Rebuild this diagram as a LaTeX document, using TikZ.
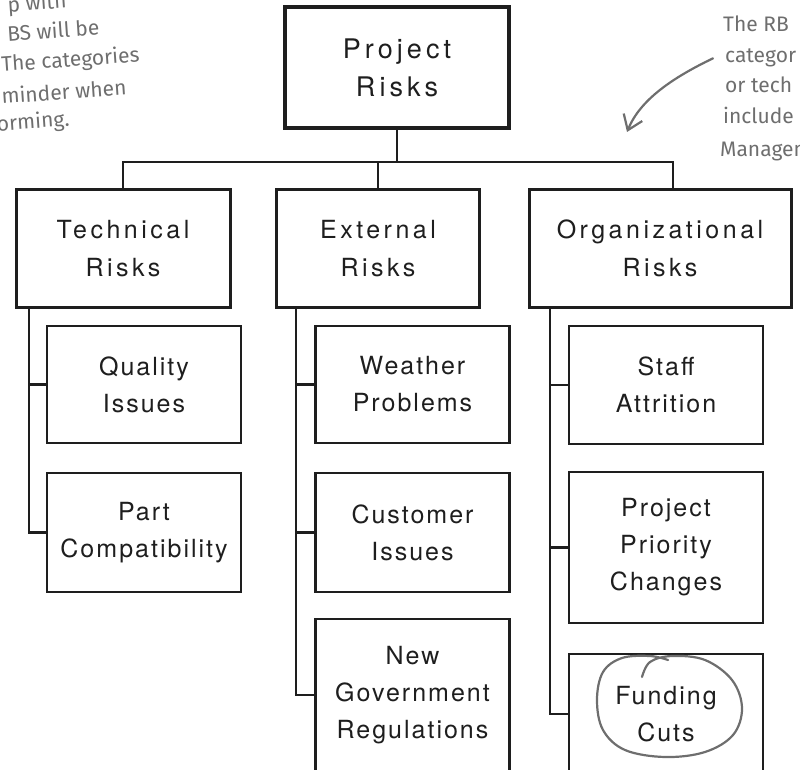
\documentclass[tikz,border=0pt]{standalone}
\usepackage{fontspec}
\setmainfont{TeX Gyre Heros}
\newfontfamily\toplabel[LetterSpace=15]{TeX Gyre Heros}
\newfontfamily\catlabel[LetterSpace=14]{TeX Gyre Heros}
\newfontfamily\risklabel[LetterSpace=8]{TeX Gyre Heros}
\newfontfamily\handfont{Fira Sans}
\usepackage{xcolor}
\usepackage{tikz}
\usetikzlibrary{arrows.meta, positioning, calc}

\definecolor{ink}{HTML}{1E1E1E}
\definecolor{pencil}{HTML}{6E6E6E}

\tikzset{
  topbox/.style={draw=ink, line width=4pt, minimum width=224pt, minimum height=121pt, align=center, text=ink, font=\toplabel\fontsize{27}{38}\selectfont},
  catbox/.style={draw=ink, line width=3pt, minimum height=117pt, align=center, text=ink, font=\catlabel\fontsize{25}{38}\selectfont},
  riskbox/.style={draw=ink, line width=2.3pt, minimum width=194pt, align=center, text=ink, font=\risklabel\fontsize{25}{37}\selectfont},
  link/.style={draw=ink, line width=2.5pt},
  note/.style={text=pencil, inner sep=0pt, font=\handfont\fontsize{21}{22}\selectfont},
  scribble/.style={draw=pencil, line width=2.2pt, line cap=round, line join=round},
}

\begin{document}
\begin{tikzpicture}[x=1pt, y=-1pt]
        \useasboundingbox (0,0) rectangle (800,770);
        \clip (0,0) rectangle (800,770);

        % root
        \node[topbox] (proj) at (397,67.5) {Project\\Risks};

        % categories
        \node[catbox, minimum width=214pt] (tech) at (123,248.5) {Technical\\Risks};
        \node[catbox, minimum width=203pt] (ext) at (378,248.5) {External\\Risks};
        \node[catbox, minimum width=262pt] (org) at (660,248.5) {Organizational\\Risks};

        % risks
        \node[riskbox, minimum height=117pt] (quality) at (144,384.5) {Quality\\Issues};
        \node[riskbox, minimum height=119pt] (part) at (144,532.5) {Part\\Compatibility};
        \node[riskbox, minimum height=117pt] (weather) at (412.5,384.5) {Weather\\Problems};
        \node[riskbox, minimum height=119pt] (customer) at (412.5,532.5) {Customer\\Issues};
        \node[riskbox, minimum height=152pt] (govt) at (412.5,695) {New\\Government\\Regulations};
        \node[riskbox, minimum height=118pt] (staff) at (666,385) {Staff\\Attrition};
        \node[riskbox, minimum height=151pt] (priority) at (666,547.5) {Project\\Priority\\Changes};
        \node[riskbox, minimum height=120pt] (funding) at (666,714) {Funding\\Cuts};

        % tree lines
        \coordinate (bus) at (397,162);
        \draw[link] (proj.south) -- (bus);
        \draw[link] (tech.north) |- (bus) -| ([xshift=13pt]org.north);
        \draw[link] (ext.north) -- (ext.north |- bus);

        \coordinate (techspine) at (29,0);
        \coordinate (extspine) at (296,0);
        \coordinate (orgspine) at (550,0);
        \draw[link] (tech.south -| techspine) |- (part.west);
        \draw[link] (quality.west) -- (quality.west -| techspine);
        \draw[link] (ext.south -| extspine) |- (govt.west);
        \draw[link] (weather.west) -- (weather.west -| extspine);
        \draw[link] (customer.west) -- (customer.west -| extspine);
        \draw[link] (org.south -| orgspine) |- (funding.west);
        \draw[link] (staff.west) -- (staff.west -| orgspine);
        \draw[link] (priority.west) -- (priority.west -| orgspine);

        % handwritten notes
        \node[note, anchor=base east, rotate=4] (noteA1) at (67,8) {p with};
        \node[note, anchor=base east, rotate=4] (noteA2) at (100,35) {BS will be};
        \node[note, anchor=base east, rotate=4] (noteA3) at (140,62) {The categories};
        \node[note, anchor=base east, rotate=4] (noteA4) at (127,95) {minder when};
        \node[note, anchor=base east, rotate=4] (noteA5) at (70,126) {orming.};

        \node[note, anchor=base west] (noteB1) at (723,32) {The RB};
        \node[note, anchor=base west] (noteB2) at (725,63) {categor};
        \node[note, anchor=base west] (noteB3) at (725,93) {or tech};
        \node[note, anchor=base west] (noteB4) at (723,124) {include};
        \node[note, anchor=base west] (noteB5) at (720,157) {Managem};

        \coordinate (arrowtip) at (627,132);
        \draw[scribble, -{Straight Barb[length=14pt,width=20pt]}] ([xshift=-12pt]noteB2.west) .. controls (672,78) and (640,100) .. (arrowtip);

        % loop round the funding box text
        \draw[scribble] plot[smooth, tension=0.6] coordinates {(642,677) (650,662) (672,656) (705,660) (732,680) (742,708) (733,735) (705,752) (665,757) (625,750) (603,730) (597,700) (603,672) (622,658) (650,656) (668,660)};
    \end{tikzpicture}
\end{document}
